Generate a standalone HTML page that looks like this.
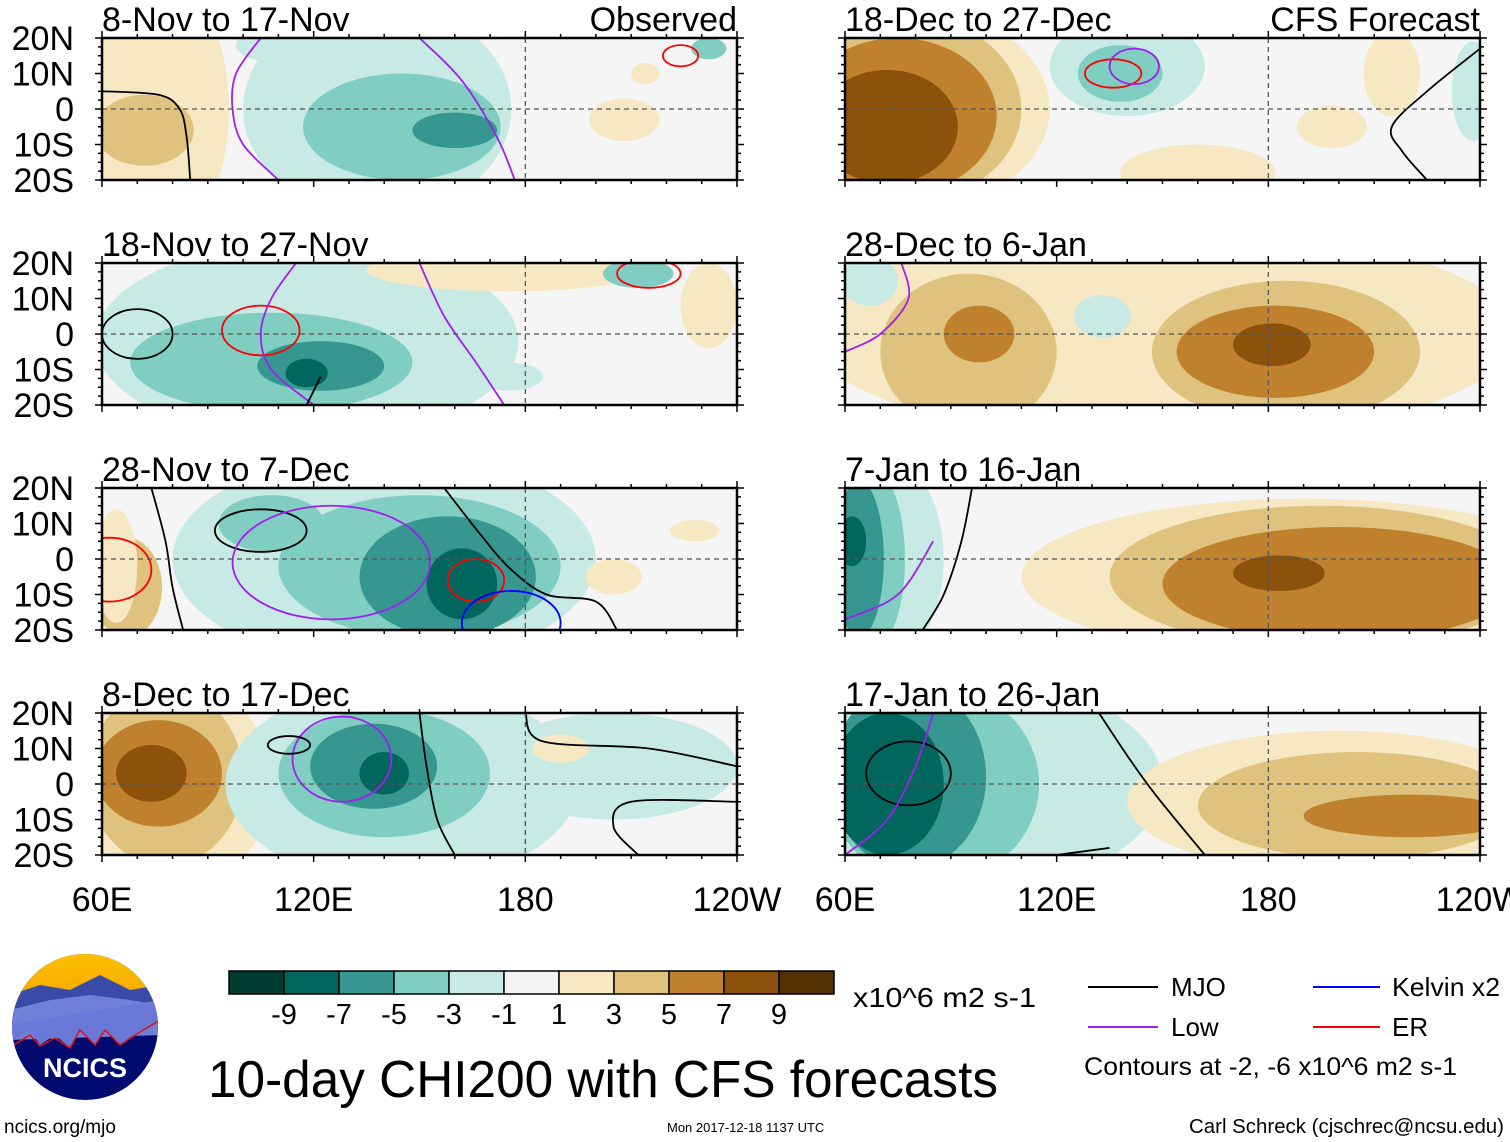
<!DOCTYPE html>
<html><head><meta charset="utf-8">
<style>
body{margin:0;background:#fff;}
svg{display:block;font-family:"Liberation Sans",sans-serif;}
</style></head>
<body>
<svg id="fig" width="1510" height="1142" viewBox="0 0 1510 1142" xmlns="http://www.w3.org/2000/svg">
<defs>
<linearGradient id="sky" x1="0" y1="0" x2="0" y2="1"><stop offset="0" stop-color="#ffc000"/><stop offset="1" stop-color="#f5a800"/></linearGradient>
<clipPath id="logoclip"><circle cx="85" cy="1027" r="73"/></clipPath>
</defs>
<g id="panels"></g>

<g id="cbar"></g>
<text x="853" y="1007" font-size="28" textLength="183" lengthAdjust="spacingAndGlyphs">x10^6 m2 s-1</text>

<text x="208" y="1097" font-size="52" textLength="790" lengthAdjust="spacingAndGlyphs">10-day CHI200 with CFS forecasts</text>
<text x="4" y="1133" font-size="19">ncics.org/mjo</text>
<text x="667" y="1132" font-size="13">Mon 2017-12-18 1137 UTC</text>
<text x="1189" y="1133" font-size="20" textLength="315" lengthAdjust="spacingAndGlyphs">Carl Schreck (cjschrec@ncsu.edu)</text>

<g>
<line x1="1088" y1="987" x2="1158" y2="987" stroke="#000" stroke-width="2"/>
<text x="1171" y="996" font-size="26">MJO</text>
<line x1="1088" y1="1027" x2="1158" y2="1027" stroke="#a020f0" stroke-width="2"/>
<text x="1171" y="1036" font-size="26">Low</text>
<line x1="1313" y1="987" x2="1380" y2="987" stroke="#0000ff" stroke-width="2"/>
<text x="1392" y="996" font-size="26" textLength="108" lengthAdjust="spacingAndGlyphs">Kelvin x2</text>
<line x1="1313" y1="1027" x2="1380" y2="1027" stroke="#ff0000" stroke-width="2"/>
<text x="1392" y="1036" font-size="26">ER</text>
<text x="1084" y="1075" font-size="25" textLength="373" lengthAdjust="spacingAndGlyphs">Contours at -2, -6 x10^6 m2 s-1</text>
</g>

<g clip-path="url(#logoclip)">
<rect x="10" y="952" width="150" height="150" fill="#010a6e"/>
<rect x="10" y="952" width="150" height="50" fill="url(#sky)"/>
<path d="M10 995 L40 985 L70 990 L100 975 L130 990 L160 985 L160 1020 L10 1030Z" fill="#3a4aa8"/>
<path d="M10 1010 L50 1000 L90 995 L130 1000 L160 1005 L160 1035 L10 1040Z" fill="#7080d8"/>
<path d="M10 1040 L30 1030 L40 1045 L55 1035 L70 1048 L80 1030 L95 1045 L105 1030 L120 1045 L140 1030 L160 1020 L160 1000 L10 1025Z" fill="#6a78d8"/>
<path d="M12 1046 L30 1035 L40 1046 L55 1038 L70 1048 L80 1030 L95 1045 L105 1030 L120 1045 L140 1032 L160 1020" fill="none" stroke="#e01010" stroke-width="1.5"/>
</g>
<text x="85" y="1077" font-size="27" font-weight="bold" fill="#fff" text-anchor="middle">NCICS</text>
</svg>

<script>
const binColors=["#003c30","#01665e","#35978f","#80cdc1","#c7eae5","#f5f5f5","#f6e8c3","#dfc27d","#bf812d","#8c510a","#543005"];
const tickLabels=["-9","-7","-5","-3","-1","1","3","5","7","9"];
const panelTitles=["8-Nov to 17-Nov","18-Nov to 27-Nov","28-Nov to 7-Dec","8-Dec to 17-Dec","18-Dec to 27-Dec","28-Dec to 6-Jan","7-Jan to 16-Jan","17-Jan to 26-Jan"];
const latLabels=["20N","10N","0","10S","20S"];
const lonLabels=["60E","120E","180","120W"];
// blobs: [lon, lat, lonRadius, latRadius, binIndex]
const blobs1=[[74,0,22,40,6],[72,-6,14,10,7],[138,0,38,30,4],[145,-5,28,15,3],[160,-6,12,5,2],[208,-3,10,6,6],[214,10,4,3,6],[232,17,5,3,3],[110,18,12,5,4]];
const blobs2=[[118,-2,60,28,4],[108,-8,40,14,3],[122,-9,18,7,2],[118,-11,6,4,1],[175,18,40,6,6],[212,17,10,4,3],[232,8,8,12,6],[175,-12,10,4,4]];
const blobs3=[[140,0,60,30,4],[150,-2,40,20,3],[158,-5,25,17,2],[162,-7,10,10,1],[108,10,15,8,3],[67,-8,10,14,7],[64,-2,6,16,6],[205,-5,8,5,6],[228,8,7,3,6]];
const blobs4=[[80,0,28,30,6],[78,2,22,25,7],[76,3,18,15,8],[74,3,10,8,9],[145,0,50,28,4],[140,3,30,18,3],[137,5,18,12,2],[140,3,7,6,1],[205,5,35,15,4],[190,10,8,4,6]];
const blobs5=[[80,0,38,28,6],[78,0,32,26,7],[75,-2,28,22,8],[72,-5,20,16,9],[140,12,22,14,4],[138,10,12,8,3],[160,-18,22,8,6],[198,-5,10,6,6],[238,5,6,14,4],[215,10,8,12,6]];
const blobs6=[[150,0,100,30,6],[95,-5,25,22,7],[98,0,10,8,8],[185,-5,38,20,7],[182,-5,28,13,8],[181,-3,11,6,9],[67,15,8,7,4],[133,5,8,6,4]];
const blobs7=[[72,0,16,28,4],[67,0,10,26,3],[64,0,7,22,2],[62,5,4,7,1],[190,-5,80,22,6],[195,-5,60,20,7],[200,-7,50,16,8],[183,-4,13,5,9]];
const blobs8=[[95,0,55,30,4],[85,0,30,28,3],[78,2,22,26,2],[72,0,16,20,1],[200,-5,60,20,6],[205,-6,45,15,7],[220,-9,30,6,8]];
const panelBlobs=[blobs1,blobs2,blobs3,blobs4,blobs5,blobs6,blobs7,blobs8];
// closed contour loops: [lon, lat, lonRadius, latRadius, color]
const loops1=[[224,15,5,3,"#f00"]];
const loops2=[[70,0,10,7,"#000"],[105,1,11,7,"#f00"],[215,17,9,4,"#f00"]];
const loops3=[[105,8,13,6,"#000"],[125,-1,28,16,"#a020f0"],[166,-6,8,6,"#f00"],[176,-18,14,9,"#00f"],[62,-3,12,9,"#f00"]];
const loops4=[[128,7,14,12,"#a020f0"],[113,11,6,2.5,"#000"]];
const loops5=[[136,10,8,4,"#f00"],[142,12,7,5,"#a020f0"]];
const loops6=[];
const loops7=[];
const loops8=[[78,3,12,9,"#000"]];
const panelLoops=[loops1,loops2,loops3,loops4,loops5,loops6,loops7,loops8];
// open contour lines: [color, [[lon,lat],...]]
const open1=[["#000",[[60,5],[76,4],[82,0],[84,-8],[85,-20]]],["#a020f0",[[105,20],[98,10],[97,0],[100,-10],[110,-20]]],["#a020f0",[[150,20],[162,8],[172,-8],[177,-20]]]];
const open2=[["#a020f0",[[115,20],[108,10],[105,0],[108,-10],[120,-20]]],["#a020f0",[[150,20],[157,5],[166,-8],[174,-20]]],["#000",[[118,-20],[122,-12]]]];
const open3=[["#000",[[157,20],[168,6],[176,-3],[186,-10],[200,-12],[206,-20]]],["#000",[[74,20],[78,5],[80,-8],[83,-20]]]];
const open4=[["#000",[[150,20],[152,5],[155,-10],[160,-20]]],["#000",[[180,20],[185,12],[215,10],[240,5]]],["#000",[[240,-5],[210,-5],[205,-12],[212,-20]]]];
const open5=[["#000",[[240,17],[225,5],[215,-5],[218,-12],[225,-20]]]];
const open6=[["#a020f0",[[76,20],[78,10],[70,0],[60,-5]]]];
const open7=[["#a020f0",[[85,5],[75,-10],[60,-17]]],["#000",[[96,20],[93,5],[88,-10],[82,-20]]]];
const open8=[["#a020f0",[[85,20],[80,5],[72,-10],[60,-20]]],["#000",[[132,20],[140,8],[148,-3],[162,-20]]],["#000",[[120,-20],[135,-18]]]];
const panelOpen=[open1,open2,open3,open4,open5,open6,open7,open8];

const NS="http://www.w3.org/2000/svg";
const colX=[102,845], W=635, rowY=[38,263,488,713], H=142;
function mk(tag,attrs,parent){const e=document.createElementNS(NS,tag);for(const k in attrs)e.setAttribute(k,attrs[k]);parent.appendChild(e);return e;}
function smoothPath(pts){let d="M"+pts[0][0]+" "+pts[0][1];
  for(let i=0; i < pts.length-1; i++){const p0=pts[Math.max(0,i-1)],p1=pts[i],p2=pts[i+1],p3=pts[Math.min(pts.length-1,i+2)];
    d+=" C"+(p1[0]+(p2[0]-p0[0])/6)+" "+(p1[1]+(p2[1]-p0[1])/6)+" "+(p2[0]-(p3[0]-p1[0])/6)+" "+(p2[1]-(p3[1]-p1[1])/6)+" "+p2[0]+" "+p2[1];}
  return d;}
const root=document.getElementById("panels");
for(let p=0; p < 8; p++){
  const x0=colX[p < 4?0:1], y0=rowY[p%4];
  const lonX=lon=>x0+(lon-60)/180*W;
  const latY=lat=>y0+(20-lat)/40*H;
  const g=mk("g",{},root);
  
  
  const cp=mk("clipPath",{id:"cp"+p},g);
  mk("rect",{x:x0,y:y0,width:W,height:H},cp);
  const inner=mk("g",{"clip-path":"url(#cp"+p+")"},g);
  mk("rect",{x:x0,y:y0,width:W,height:H,fill:binColors[5]},inner);
  panelBlobs[p].forEach(b=>{
    const e=mk("ellipse",{cx:lonX(b[0]),cy:latY(b[1]),rx:b[2]/180*W,ry:b[3]/40*H,fill:binColors[b[4]]},inner);
    
    
  });
  panelLoops[p].forEach(l=>{
    const e=mk("ellipse",{cx:lonX(l[0]),cy:latY(l[1]),rx:l[2]/180*W,ry:l[3]/40*H,fill:"none",stroke:l[4],"stroke-width":1.8},inner);
    
    
  });
  panelOpen[p].forEach(o=>{
    const pts=o[1].map(q=>[lonX(q[0]),latY(q[1])]);
    const e=mk("path",{d:smoothPath(pts),fill:"none",stroke:o[0],"stroke-width":1.8},inner);
    
    
  });
  mk("line",{x1:x0,x2:x0+W,y1:latY(0),y2:latY(0),stroke:"#555","stroke-dasharray":"5,4","stroke-width":1.3},inner);
  mk("line",{x1:lonX(180),x2:lonX(180),y1:y0,y2:y0+H,stroke:"#555","stroke-dasharray":"5,4","stroke-width":1.3},inner);
  mk("rect",{x:x0,y:y0,width:W,height:H,fill:"none",stroke:"#000","stroke-width":2.5},g);
  for(let lon=60; lon <= 240; lon+=10){const x=lonX(lon),L=(lon%60==0)?7:4;
    mk("line",{x1:x,x2:x,y1:y0-L,y2:y0,stroke:"#000","stroke-width":1.5},g);
    mk("line",{x1:x,x2:x,y1:y0+H,y2:y0+H+L,stroke:"#000","stroke-width":1.5},g);}
  for(let lat=-20; lat <= 20; lat+=2.5){const y=latY(lat),L=(lat%10==0)?7:4;
    mk("line",{x1:x0-L,x2:x0,y1:y,y2:y,stroke:"#000","stroke-width":1.5},g);
    mk("line",{x1:x0+W,x2:x0+W+L,y1:y,y2:y,stroke:"#000","stroke-width":1.5},g);}
  const t=mk("text",{x:x0,y:y0-7,"font-size":34},g);t.textContent=panelTitles[p];
  
  
  if(p%4==0){
    const tr=mk("text",{x:x0+W,y:y0-7,"font-size":34,"text-anchor":"end"},g);tr.textContent=p==0?"Observed":"CFS Forecast";
    
    
  }
  if(p < 4){latLabels.forEach((s,i)=>{const tl=mk("text",{x:74,y:latY(20-i*10)+12,"font-size":34,"text-anchor":"end"},g);tl.textContent=s;
    
    });}
  if(p%4==3){lonLabels.forEach((s,i)=>{const tx=mk("text",{x:lonX(60+i*60),y:911,"font-size":34,"text-anchor":"middle"},g);tx.textContent=s;
    
    });}
}
const cb=document.getElementById("cbar");
binColors.forEach((c,i)=>{const r=mk("rect",{x:229+i*55,y:971,width:55,height:23,fill:c,stroke:"#000","stroke-width":1.5},cb);
  
  });
tickLabels.forEach((s,i)=>{const t=mk("text",{x:284+i*55,y:1024,"font-size":29,"text-anchor":"middle"},cb);t.textContent=s;
  
  });
</script>
</body></html>
